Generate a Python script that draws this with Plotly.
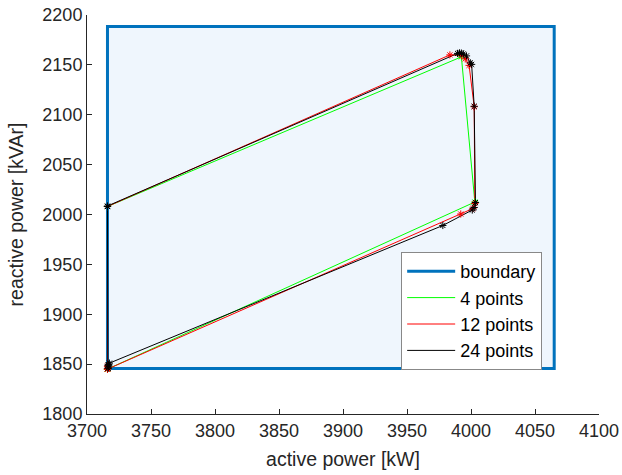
import plotly.graph_objects as go

# ---- data ----
boundary_p = [3716, 4065, 4065, 3716, 3716]
boundary_q = [1845.5, 1845.5, 2188.5, 2188.5, 1845.5]

p4 = [3716.0, 4003.0, 3992.5, 3716.0, 3716.0]
q4 = [1845.0, 2012.5, 2158.0, 2008.0, 1845.0]

p12 = [3716.0, 3992.0, 4001.5, 4003.0, 4002.5, 3998.5, 3995.5, 3992.5, 3983.5, 3716.0, 3716.0, 3716.0, 3716.0]
q12 = [1845.0, 2000.5, 2006.0, 2011.0, 2108.0, 2149.5, 2156.0, 2159.5, 2160.0, 2008.0, 1848.0, 1845.5, 1845.0]

p24 = [3716.5, 3716.3, 3716.0, 3716.0, 3989.5, 3991.0, 3992.5, 3994.0, 3996.5, 3999.5,
       4000.5, 4002.5, 4003.5, 4002.5, 4001.0, 3978.0, 3717.5, 3717.0, 3716.8, 3716.5]
q24 = [1846.0, 1849.0, 2008.0, 2008.5, 2161.5, 2162.0, 2161.8, 2161.0, 2159.0, 2152.0,
       2150.5, 2108.5, 2012.0, 2007.0, 2004.5, 1989.0, 1851.0, 1849.5, 1848.0, 1846.0]

x_ticks = [3700, 3750, 3800, 3850, 3900, 3950, 4000, 4050, 4100]
y_ticks = [1800, 1850, 1900, 1950, 2000, 2050, 2100, 2150, 2200]

FONT = "Liberation Sans, Arial, sans-serif"
AX = "#262626"

fig = go.Figure()
# boundary fill
fig.add_trace(go.Scatter(x=boundary_p, y=boundary_q, mode="lines", fill="toself",
                         fillcolor="#EFF6FD", line=dict(width=0), showlegend=False, hoverinfo="skip"))
fig.add_trace(go.Scatter(x=boundary_p, y=boundary_q, mode="lines", name="boundary",
                         line=dict(color="#0072BD", width=3)))

series = [("4 points", p4, q4, "#00FF00"), ("12 points", p12, q12, "#FF0000"), ("24 points", p24, q24, "#000000")]
for name, p, q, c in series:
    fig.add_trace(go.Scatter(x=p, y=q, mode="lines", name=name, line=dict(color=c, width=1)))
for name, p, q, c in series:
    fig.add_trace(go.Scatter(x=p, y=q, mode="markers", showlegend=False,
                             marker=dict(symbol="asterisk-open", size=6, color=c,
                                         line=dict(color=c, width=1))))

fig.update_layout(
    width=622, height=475,
    margin=dict(l=87, r=23, t=14.5, b=60.5, pad=0),
    paper_bgcolor="white", plot_bgcolor="white",
    font=dict(family=FONT, size=18, color=AX),
    legend=dict(x=0.889, y=0.406, xanchor="right", yanchor="top",
                bgcolor="white", bordercolor="#888888", borderwidth=1,
                font=dict(size=18, color="#000000"), tracegroupgap=0, itemwidth=48),
    showlegend=True,
)
fig.update_xaxes(range=[3700, 4100], tickvals=x_ticks, ticktext=[str(v) for v in x_ticks],
                 showgrid=False, zeroline=False, showline=True, linecolor=AX, linewidth=1,
                 mirror=False, ticks="inside", ticklen=5, tickcolor=AX, automargin=False,
                 tickfont=dict(size=18, color=AX),
                 title=dict(text="active power [kW]", font=dict(size=19.5, color=AX), standoff=12))
fig.update_yaxes(range=[1800, 2200], tickvals=y_ticks, ticktext=[str(v) for v in y_ticks],
                 showgrid=False, zeroline=False, showline=True, linecolor=AX, linewidth=1,
                 mirror=False, ticks="inside", ticklen=5, tickcolor=AX, automargin=False,
                 tickfont=dict(size=18, color=AX),
                 title=dict(text="reactive power [kVAr]", font=dict(size=19.5, color=AX), standoff=13))

fig.write_html("out.html", config={"displayModeBar": False},
               post_script="document.body.style.margin='0';")
